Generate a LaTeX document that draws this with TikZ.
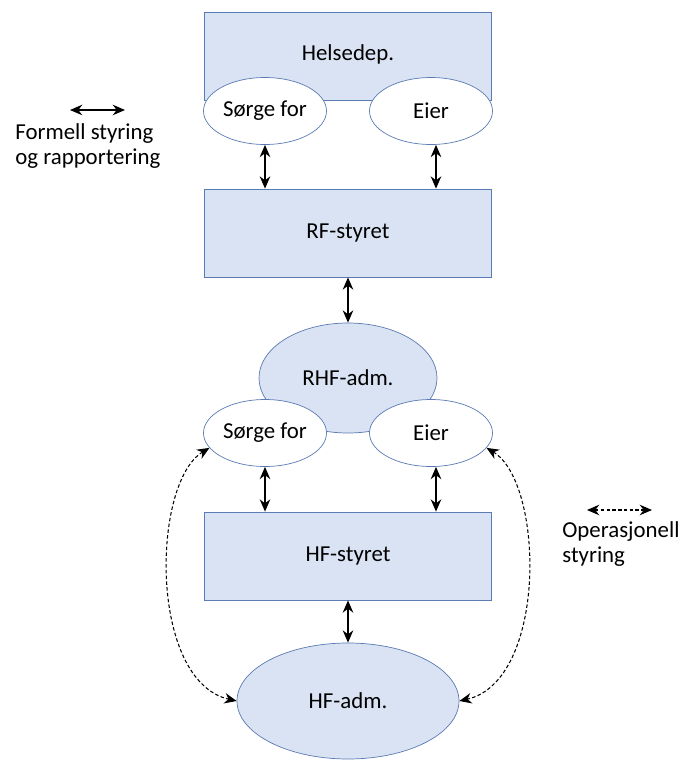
\documentclass[tikz,border=0pt]{standalone}
\usepackage{fontspec}
\setmainfont{Carlito}
\usetikzlibrary{arrows.meta,shapes.geometric}
\definecolor{boxfill}{HTML}{DAE3F3}
\definecolor{boxline}{HTML}{5A7BB3}
\begin{document}
\begin{tikzpicture}[x=0.02cm,y=-0.02cm,
  font=\fontsize{13pt}{14.2pt}\selectfont,
  box/.style={draw=boxline,fill=boxfill,minimum width=287*0.02cm,minimum height=88*0.02cm},
  bigoval/.style={ellipse,draw=boxline,fill=boxfill,inner sep=0pt},
  oval/.style={ellipse,draw=boxline,fill=white,inner sep=0pt,minimum width=123*0.02cm,minimum height=67*0.02cm},
  formal/.style={{Stealth[length=7pt,width=6pt]}-{Stealth[length=7pt,width=6pt]},line width=0.9pt},
  oper/.style={{Stealth[length=7pt,width=6pt]}-{Stealth[length=7pt,width=6pt]},dash pattern=on 2pt off 1.3pt,line width=0.6pt}]
\useasboundingbox (0,0) rectangle (683,762);

\node[box] (helse) at (348,56) {};
\node at (348,54) {Helsedep.};
\node[oval] (sorgeA) at (265,111) {Sørge for};
\node[oval] (eierA) at (431,111) {Eier};

\node[box] (rf) at (348,233) {RF-styret};

\node[bigoval,minimum width=178*0.02cm,minimum height=110*0.02cm] (rhf) at (348,378) {RHF-adm.};
\node[oval] (sorgeB) at (265,433) {Sørge for};
\node[oval] (eierB) at (431,433) {Eier};

\node[box] (hf) at (348,556) {HF-styret};
\node[bigoval,minimum width=222*0.02cm,minimum height=116*0.02cm] (hfadm) at (348,701) {HF-adm.};

\draw[formal] (sorgeA.south) -- (sorgeA.south |- rf.north);
\draw[formal] (eierA.south) ++(5,0) coordinate (eA) -- (eA |- rf.north);
\draw[formal] (rf.south) -- (rhf.north);
\draw[formal] (sorgeB.south) -- (sorgeB.south |- hf.north);
\draw[formal] (eierB.south) ++(5,0) coordinate (eB) -- (eB |- hf.north);
\draw[formal] (hf.south) -- (hfadm.north);

\draw[oper] (sorgeB.195) .. controls +(-58,35) and +(-88,-20) .. (hfadm.west);
\draw[oper] (eierB.-15) .. controls +(58,35) and +(88,-20) .. (hfadm.east);

% forklaring
\coordinate (fa) at (70,110);
\coordinate (fb) at (125,110);
\draw[formal,line width=0.7pt] (fa) -- (fb);
\node[anchor=west,align=left,inner sep=0pt] (formell) at (15,146) {Formell styring\\og rapportering};
\coordinate (oa) at (587,510);
\coordinate (ob) at (652,510);
\draw[oper] (oa) -- (ob);
\node[anchor=west,align=left,inner sep=0pt] (operasjonell) at (562,544) {Operasjonell\\styring};
\end{tikzpicture}
\end{document}
